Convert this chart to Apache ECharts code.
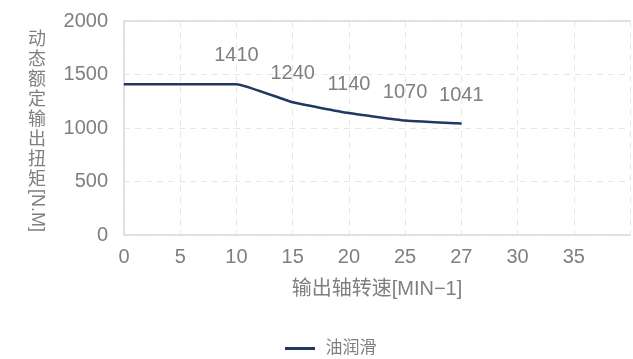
<!DOCTYPE html>
<html>
<head>
<meta charset="utf-8">
<script src="https://cdn.jsdelivr.net/npm/echarts@6/dist/echarts.min.js"></script>
<style>
  html, body { margin: 0; padding: 0; background: #fff; }
  #chart { width: 633px; height: 359px; }
</style>
</head>
<body>
<div id="chart"></div>
<script>
// Output shaft speed categories (last slot is an unlabeled end of the axis)
const speeds = ['0', '5', '10', '15', '20', '25', '27', '30', '35', ''];
// Rated dynamic output torque, oil lubrication
const torqueOil = [1410, 1410, 1410, 1240, 1140, 1070, 1041];
// Points whose value is printed above the line
const labelFrom = 2;
const yTicks = { min: 0, max: 2000, interval: 500 };

const textColor = '#7f7f7f';
const fontFam = "'Liberation Sans', 'Noto Sans CJK SC', sans-serif";

const chart = echarts.init(document.getElementById('chart'));

const seriesData = torqueOil.map((v, i) => ({
  value: v,
  label: { show: i >= labelFrom }
}));

chart.setOption({
  animation: false,
  textStyle: { fontFamily: fontFam },
  grid: { left: 124, right: 1, top: 21, bottom: 124 },
  legend: {
    top: 335,
    left: 280,
    icon: 'path://M0,0 L30,0 L30,3 L0,3 Z',
    itemWidth: 37,
    itemHeight: 3,
    textStyle: { color: textColor, fontSize: 17, fontFamily: fontFam, padding: [0, 0, 0, 2] },
    data: ['油润滑']
  },
  xAxis: [{
    type: 'category',
    data: speeds,
    boundaryGap: false,
    name: '输出轴转速[MIN−1]',
    nameLocation: 'middle',
    nameGap: 44,
    nameTextStyle: { color: textColor, fontSize: 20 },
    axisLine: { lineStyle: { color: '#d9d9d9', width: 1.5 } },
    axisTick: { show: false },
    axisLabel: { color: textColor, fontSize: 20, margin: 12 },
    splitLine: { show: true, lineStyle: { color: '#e6e6e6', type: [6, 5] } }
  }, {
    type: 'category',
    data: speeds,
    boundaryGap: false,
    position: 'top',
    axisLine: { lineStyle: { color: '#d9d9d9', width: 1.5 } },
    axisTick: { show: false },
    axisLabel: { show: false },
    splitLine: { show: false }
  }],
  yAxis: {
    type: 'value',
    min: yTicks.min,
    max: yTicks.max,
    interval: yTicks.interval,
    axisLine: { show: true, lineStyle: { color: '#d9d9d9', width: 1.5 } },
    axisTick: { show: false },
    axisLabel: { color: textColor, fontSize: 20, margin: 16, formatter: v => String(v) },
    splitLine: { show: true, lineStyle: { color: '#e6e6e6', type: [6, 5] } }
  },
  graphic: [{
    type: 'text',
    left: 28,
    top: 30,
    style: {
      text: '动\n态\n额\n定\n输\n出\n扭\n矩',
      fill: textColor,
      font: '18px ' + fontFam,
      lineHeight: 20,
      align: 'left'
    }
  }, {
    type: 'text',
    x: 28,
    y: 189,
    rotation: -Math.PI / 2,
    style: {
      text: '[N.M]',
      fill: textColor,
      font: '18px ' + fontFam,
      textAlign: 'left',
      textVerticalAlign: 'bottom'
    }
  }],
  series: [{
    name: '油润滑',
    type: 'line',
    xAxisIndex: 0,
    data: seriesData,
    smooth: 0.12,
    symbol: 'circle',
    symbolSize: 1,
    showSymbol: true,
    lineStyle: { color: '#1f3864', width: 2.5 },
    itemStyle: { color: '#1f3864' },
    label: {
      position: 'top',
      distance: 18,
      color: textColor,
      fontSize: 20
    }
  }]
});
</script>
</body>
</html>
